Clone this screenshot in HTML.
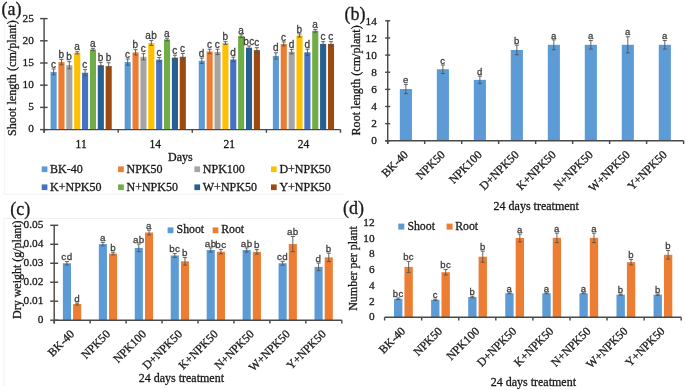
<!DOCTYPE html>
<html><head><meta charset="utf-8"><title>Figure</title>
<style>
html,body{margin:0;padding:0;background:#fff;width:685px;height:390px;overflow:hidden;}
svg{display:block;will-change:transform;}

</style></head>
<body>
<svg width="685" height="390" viewBox="0 0 685 390">
<defs><filter id="soft" filterUnits="userSpaceOnUse" x="0" y="0" width="685" height="390"><feGaussianBlur stdDeviation="0.45"/></filter></defs>
<rect width="685" height="390" fill="#fff"/>
<g filter="url(#soft)">
<rect width="685" height="390" fill="#fff"/>
<line x1="4.3" y1="0" x2="4.3" y2="194.3" stroke="#f3f3f3" stroke-width="1"/>
<line x1="4.3" y1="194.3" x2="345" y2="194.3" stroke="#f3f3f3" stroke-width="1"/>
<text x="1.5" y="14.6" font-family="'Liberation Serif', serif" font-size="18" fill="#1a1a1a" stroke="#1a1a1a" stroke-width="0.3" text-anchor="start" >(a)</text>
<rect x="50.55" y="71.88" width="6.1" height="57.72" fill="#5B9BD5"/>
<line x1="53.6" y1="68.99" x2="53.6" y2="74.77" stroke="#555555" stroke-width="0.9"/>
<line x1="51.6" y1="68.99" x2="55.6" y2="68.99" stroke="#555555" stroke-width="0.9"/>
<line x1="51.6" y1="74.77" x2="55.6" y2="74.77" stroke="#555555" stroke-width="0.9"/>
<text transform="translate(53.6,67.69) scale(1,1)" font-family="'Liberation Sans', sans-serif" font-size="10.0" fill="#404040" stroke="#404040" stroke-width="0.3" letter-spacing="0.45" text-anchor="middle">c</text>
<rect x="58.42" y="62.11" width="6.1" height="67.49" fill="#ED7D31"/>
<line x1="61.47" y1="59.45" x2="61.47" y2="64.78" stroke="#555555" stroke-width="0.9"/>
<line x1="59.47" y1="59.45" x2="63.47" y2="59.45" stroke="#555555" stroke-width="0.9"/>
<line x1="59.47" y1="64.78" x2="63.47" y2="64.78" stroke="#555555" stroke-width="0.9"/>
<text transform="translate(61.47,58.15) scale(1,1)" font-family="'Liberation Sans', sans-serif" font-size="10.0" fill="#404040" stroke="#404040" stroke-width="0.3" letter-spacing="0.45" text-anchor="middle">b</text>
<rect x="66.29" y="65.22" width="6.1" height="64.38" fill="#A5A5A5"/>
<line x1="69.34" y1="61.67" x2="69.34" y2="68.77" stroke="#555555" stroke-width="0.9"/>
<line x1="67.34" y1="61.67" x2="71.34" y2="61.67" stroke="#555555" stroke-width="0.9"/>
<line x1="67.34" y1="68.77" x2="71.34" y2="68.77" stroke="#555555" stroke-width="0.9"/>
<text transform="translate(69.34,60.37) scale(1,1)" font-family="'Liberation Sans', sans-serif" font-size="10.0" fill="#404040" stroke="#404040" stroke-width="0.3" letter-spacing="0.45" text-anchor="middle">b</text>
<rect x="74.16" y="52.79" width="6.1" height="76.81" fill="#FFC000"/>
<line x1="77.21" y1="51.68" x2="77.21" y2="53.9" stroke="#555555" stroke-width="0.9"/>
<line x1="75.21" y1="51.68" x2="79.21" y2="51.68" stroke="#555555" stroke-width="0.9"/>
<line x1="75.21" y1="53.9" x2="79.21" y2="53.9" stroke="#555555" stroke-width="0.9"/>
<text transform="translate(77.21,50.38) scale(1,1)" font-family="'Liberation Sans', sans-serif" font-size="10.0" fill="#404040" stroke="#404040" stroke-width="0.3" letter-spacing="0.45" text-anchor="middle">a</text>
<rect x="82.03" y="72.77" width="6.1" height="56.83" fill="#4472C4"/>
<line x1="85.08" y1="69.66" x2="85.08" y2="75.88" stroke="#555555" stroke-width="0.9"/>
<line x1="83.08" y1="69.66" x2="87.08" y2="69.66" stroke="#555555" stroke-width="0.9"/>
<line x1="83.08" y1="75.88" x2="87.08" y2="75.88" stroke="#555555" stroke-width="0.9"/>
<text transform="translate(85.08,68.36) scale(1,1)" font-family="'Liberation Sans', sans-serif" font-size="10.0" fill="#404040" stroke="#404040" stroke-width="0.3" letter-spacing="0.45" text-anchor="middle">c</text>
<rect x="89.9" y="49.46" width="6.1" height="80.14" fill="#70AD47"/>
<line x1="92.95" y1="48.35" x2="92.95" y2="50.57" stroke="#555555" stroke-width="0.9"/>
<line x1="90.95" y1="48.35" x2="94.95" y2="48.35" stroke="#555555" stroke-width="0.9"/>
<line x1="90.95" y1="50.57" x2="94.95" y2="50.57" stroke="#555555" stroke-width="0.9"/>
<text transform="translate(92.95,47.05) scale(1,1)" font-family="'Liberation Sans', sans-serif" font-size="10.0" fill="#404040" stroke="#404040" stroke-width="0.3" letter-spacing="0.45" text-anchor="middle">a</text>
<rect x="97.77" y="65.22" width="6.1" height="64.38" fill="#255E91"/>
<line x1="100.82" y1="62.33" x2="100.82" y2="68.11" stroke="#555555" stroke-width="0.9"/>
<line x1="98.82" y1="62.33" x2="102.82" y2="62.33" stroke="#555555" stroke-width="0.9"/>
<line x1="98.82" y1="68.11" x2="102.82" y2="68.11" stroke="#555555" stroke-width="0.9"/>
<text transform="translate(100.82,61.03) scale(1,1)" font-family="'Liberation Sans', sans-serif" font-size="10.0" fill="#404040" stroke="#404040" stroke-width="0.3" letter-spacing="0.45" text-anchor="middle">b</text>
<rect x="105.64" y="66.11" width="6.1" height="63.49" fill="#9E480E"/>
<line x1="108.69" y1="62.78" x2="108.69" y2="69.44" stroke="#555555" stroke-width="0.9"/>
<line x1="106.69" y1="62.78" x2="110.69" y2="62.78" stroke="#555555" stroke-width="0.9"/>
<line x1="106.69" y1="69.44" x2="110.69" y2="69.44" stroke="#555555" stroke-width="0.9"/>
<text transform="translate(108.69,61.48) scale(1,1)" font-family="'Liberation Sans', sans-serif" font-size="10.0" fill="#404040" stroke="#404040" stroke-width="0.3" letter-spacing="0.45" text-anchor="middle">b</text>
<text x="81.15" y="148.3" font-family="'Liberation Serif', serif" font-size="11.5" fill="#1a1a1a" stroke="#1a1a1a" stroke-width="0.3" text-anchor="middle" >11</text>
<rect x="124.65" y="62.11" width="6.1" height="67.49" fill="#5B9BD5"/>
<line x1="127.7" y1="59" x2="127.7" y2="65.22" stroke="#555555" stroke-width="0.9"/>
<line x1="125.7" y1="59" x2="129.7" y2="59" stroke="#555555" stroke-width="0.9"/>
<line x1="125.7" y1="65.22" x2="129.7" y2="65.22" stroke="#555555" stroke-width="0.9"/>
<text transform="translate(127.7,57.7) scale(1,1)" font-family="'Liberation Sans', sans-serif" font-size="10.0" fill="#404040" stroke="#404040" stroke-width="0.3" letter-spacing="0.45" text-anchor="middle">c</text>
<rect x="132.52" y="52.34" width="6.1" height="77.26" fill="#ED7D31"/>
<line x1="135.57" y1="49.68" x2="135.57" y2="55.01" stroke="#555555" stroke-width="0.9"/>
<line x1="133.57" y1="49.68" x2="137.57" y2="49.68" stroke="#555555" stroke-width="0.9"/>
<line x1="133.57" y1="55.01" x2="137.57" y2="55.01" stroke="#555555" stroke-width="0.9"/>
<text transform="translate(135.57,48.38) scale(1,1)" font-family="'Liberation Sans', sans-serif" font-size="10.0" fill="#404040" stroke="#404040" stroke-width="0.3" letter-spacing="0.45" text-anchor="middle">b</text>
<rect x="140.39" y="56.78" width="6.1" height="72.82" fill="#A5A5A5"/>
<line x1="143.44" y1="53.68" x2="143.44" y2="59.89" stroke="#555555" stroke-width="0.9"/>
<line x1="141.44" y1="53.68" x2="145.44" y2="53.68" stroke="#555555" stroke-width="0.9"/>
<line x1="141.44" y1="59.89" x2="145.44" y2="59.89" stroke="#555555" stroke-width="0.9"/>
<text transform="translate(143.44,52.38) scale(1,1)" font-family="'Liberation Sans', sans-serif" font-size="10.0" fill="#404040" stroke="#404040" stroke-width="0.3" letter-spacing="0.45" text-anchor="middle">c</text>
<rect x="148.26" y="43.02" width="6.1" height="86.58" fill="#FFC000"/>
<line x1="151.31" y1="40.58" x2="151.31" y2="45.46" stroke="#555555" stroke-width="0.9"/>
<line x1="149.31" y1="40.58" x2="153.31" y2="40.58" stroke="#555555" stroke-width="0.9"/>
<line x1="149.31" y1="45.46" x2="153.31" y2="45.46" stroke="#555555" stroke-width="0.9"/>
<text transform="translate(151.31,39.28) scale(1,1)" font-family="'Liberation Sans', sans-serif" font-size="10.0" fill="#404040" stroke="#404040" stroke-width="0.3" letter-spacing="0.45" text-anchor="middle">ab</text>
<rect x="156.13" y="59.67" width="6.1" height="69.93" fill="#4472C4"/>
<line x1="159.18" y1="57.45" x2="159.18" y2="61.89" stroke="#555555" stroke-width="0.9"/>
<line x1="157.18" y1="57.45" x2="161.18" y2="57.45" stroke="#555555" stroke-width="0.9"/>
<line x1="157.18" y1="61.89" x2="161.18" y2="61.89" stroke="#555555" stroke-width="0.9"/>
<text transform="translate(159.18,56.15) scale(1,1)" font-family="'Liberation Sans', sans-serif" font-size="10.0" fill="#404040" stroke="#404040" stroke-width="0.3" letter-spacing="0.45" text-anchor="middle">c</text>
<rect x="164" y="39.47" width="6.1" height="90.13" fill="#70AD47"/>
<line x1="167.05" y1="38.14" x2="167.05" y2="40.8" stroke="#555555" stroke-width="0.9"/>
<line x1="165.05" y1="38.14" x2="169.05" y2="38.14" stroke="#555555" stroke-width="0.9"/>
<line x1="165.05" y1="40.8" x2="169.05" y2="40.8" stroke="#555555" stroke-width="0.9"/>
<text transform="translate(167.05,36.84) scale(1,1)" font-family="'Liberation Sans', sans-serif" font-size="10.0" fill="#404040" stroke="#404040" stroke-width="0.3" letter-spacing="0.45" text-anchor="middle">a</text>
<rect x="171.87" y="57.67" width="6.1" height="71.93" fill="#255E91"/>
<line x1="174.92" y1="55.23" x2="174.92" y2="60.11" stroke="#555555" stroke-width="0.9"/>
<line x1="172.92" y1="55.23" x2="176.92" y2="55.23" stroke="#555555" stroke-width="0.9"/>
<line x1="172.92" y1="60.11" x2="176.92" y2="60.11" stroke="#555555" stroke-width="0.9"/>
<text transform="translate(174.92,53.93) scale(1,1)" font-family="'Liberation Sans', sans-serif" font-size="10.0" fill="#404040" stroke="#404040" stroke-width="0.3" letter-spacing="0.45" text-anchor="middle">c</text>
<rect x="179.74" y="56.78" width="6.1" height="72.82" fill="#9E480E"/>
<line x1="182.79" y1="53.45" x2="182.79" y2="60.11" stroke="#555555" stroke-width="0.9"/>
<line x1="180.79" y1="53.45" x2="184.79" y2="53.45" stroke="#555555" stroke-width="0.9"/>
<line x1="180.79" y1="60.11" x2="184.79" y2="60.11" stroke="#555555" stroke-width="0.9"/>
<text transform="translate(182.79,52.15) scale(1,1)" font-family="'Liberation Sans', sans-serif" font-size="10.0" fill="#404040" stroke="#404040" stroke-width="0.3" letter-spacing="0.45" text-anchor="middle">c</text>
<text x="155.25" y="148.3" font-family="'Liberation Serif', serif" font-size="11.5" fill="#1a1a1a" stroke="#1a1a1a" stroke-width="0.3" text-anchor="middle" >14</text>
<rect x="198.75" y="60.78" width="6.1" height="68.82" fill="#5B9BD5"/>
<line x1="201.8" y1="58.12" x2="201.8" y2="63.44" stroke="#555555" stroke-width="0.9"/>
<line x1="199.8" y1="58.12" x2="203.8" y2="58.12" stroke="#555555" stroke-width="0.9"/>
<line x1="199.8" y1="63.44" x2="203.8" y2="63.44" stroke="#555555" stroke-width="0.9"/>
<text transform="translate(201.8,56.82) scale(1,1)" font-family="'Liberation Sans', sans-serif" font-size="10.0" fill="#404040" stroke="#404040" stroke-width="0.3" letter-spacing="0.45" text-anchor="middle">d</text>
<rect x="206.62" y="51.46" width="6.1" height="78.14" fill="#ED7D31"/>
<line x1="209.67" y1="49.24" x2="209.67" y2="53.68" stroke="#555555" stroke-width="0.9"/>
<line x1="207.67" y1="49.24" x2="211.67" y2="49.24" stroke="#555555" stroke-width="0.9"/>
<line x1="207.67" y1="53.68" x2="211.67" y2="53.68" stroke="#555555" stroke-width="0.9"/>
<text transform="translate(209.67,47.94) scale(1,1)" font-family="'Liberation Sans', sans-serif" font-size="10.0" fill="#404040" stroke="#404040" stroke-width="0.3" letter-spacing="0.45" text-anchor="middle">c</text>
<rect x="214.49" y="51.9" width="6.1" height="77.7" fill="#A5A5A5"/>
<line x1="217.54" y1="49.24" x2="217.54" y2="54.56" stroke="#555555" stroke-width="0.9"/>
<line x1="215.54" y1="49.24" x2="219.54" y2="49.24" stroke="#555555" stroke-width="0.9"/>
<line x1="215.54" y1="54.56" x2="219.54" y2="54.56" stroke="#555555" stroke-width="0.9"/>
<text transform="translate(217.54,47.94) scale(1,1)" font-family="'Liberation Sans', sans-serif" font-size="10.0" fill="#404040" stroke="#404040" stroke-width="0.3" letter-spacing="0.45" text-anchor="middle">c</text>
<rect x="222.36" y="43.02" width="6.1" height="86.58" fill="#FFC000"/>
<line x1="225.41" y1="41.69" x2="225.41" y2="44.35" stroke="#555555" stroke-width="0.9"/>
<line x1="223.41" y1="41.69" x2="227.41" y2="41.69" stroke="#555555" stroke-width="0.9"/>
<line x1="223.41" y1="44.35" x2="227.41" y2="44.35" stroke="#555555" stroke-width="0.9"/>
<text transform="translate(225.41,40.39) scale(1,1)" font-family="'Liberation Sans', sans-serif" font-size="10.0" fill="#404040" stroke="#404040" stroke-width="0.3" letter-spacing="0.45" text-anchor="middle">b</text>
<rect x="230.23" y="59.45" width="6.1" height="70.15" fill="#4472C4"/>
<line x1="233.28" y1="57.23" x2="233.28" y2="61.67" stroke="#555555" stroke-width="0.9"/>
<line x1="231.28" y1="57.23" x2="235.28" y2="57.23" stroke="#555555" stroke-width="0.9"/>
<line x1="231.28" y1="61.67" x2="235.28" y2="61.67" stroke="#555555" stroke-width="0.9"/>
<text transform="translate(233.28,55.93) scale(1,1)" font-family="'Liberation Sans', sans-serif" font-size="10.0" fill="#404040" stroke="#404040" stroke-width="0.3" letter-spacing="0.45" text-anchor="middle">d</text>
<rect x="238.1" y="36.14" width="6.1" height="93.46" fill="#70AD47"/>
<line x1="241.15" y1="34.81" x2="241.15" y2="37.47" stroke="#555555" stroke-width="0.9"/>
<line x1="239.15" y1="34.81" x2="243.15" y2="34.81" stroke="#555555" stroke-width="0.9"/>
<line x1="239.15" y1="37.47" x2="243.15" y2="37.47" stroke="#555555" stroke-width="0.9"/>
<text transform="translate(241.15,33.51) scale(1,1)" font-family="'Liberation Sans', sans-serif" font-size="10.0" fill="#404040" stroke="#404040" stroke-width="0.3" letter-spacing="0.45" text-anchor="middle">a</text>
<rect x="245.97" y="47.68" width="6.1" height="81.92" fill="#255E91"/>
<line x1="249.02" y1="45.91" x2="249.02" y2="49.46" stroke="#555555" stroke-width="0.9"/>
<line x1="247.02" y1="45.91" x2="251.02" y2="45.91" stroke="#555555" stroke-width="0.9"/>
<line x1="247.02" y1="49.46" x2="251.02" y2="49.46" stroke="#555555" stroke-width="0.9"/>
<text transform="translate(249.02,44.61) scale(1,1)" font-family="'Liberation Sans', sans-serif" font-size="10.0" fill="#404040" stroke="#404040" stroke-width="0.3" letter-spacing="0.45" text-anchor="middle">bc</text>
<rect x="253.84" y="50.12" width="6.1" height="79.48" fill="#9E480E"/>
<line x1="256.89" y1="47.68" x2="256.89" y2="52.57" stroke="#555555" stroke-width="0.9"/>
<line x1="254.89" y1="47.68" x2="258.89" y2="47.68" stroke="#555555" stroke-width="0.9"/>
<line x1="254.89" y1="52.57" x2="258.89" y2="52.57" stroke="#555555" stroke-width="0.9"/>
<text transform="translate(256.89,46.38) scale(1,1)" font-family="'Liberation Sans', sans-serif" font-size="10.0" fill="#404040" stroke="#404040" stroke-width="0.3" letter-spacing="0.45" text-anchor="middle">c</text>
<text x="229.35" y="148.3" font-family="'Liberation Serif', serif" font-size="11.5" fill="#1a1a1a" stroke="#1a1a1a" stroke-width="0.3" text-anchor="middle" >21</text>
<rect x="272.85" y="55.9" width="6.1" height="73.7" fill="#5B9BD5"/>
<line x1="275.9" y1="52.79" x2="275.9" y2="59" stroke="#555555" stroke-width="0.9"/>
<line x1="273.9" y1="52.79" x2="277.9" y2="52.79" stroke="#555555" stroke-width="0.9"/>
<line x1="273.9" y1="59" x2="277.9" y2="59" stroke="#555555" stroke-width="0.9"/>
<text transform="translate(275.9,51.49) scale(1,1)" font-family="'Liberation Sans', sans-serif" font-size="10.0" fill="#404040" stroke="#404040" stroke-width="0.3" letter-spacing="0.45" text-anchor="middle">d</text>
<rect x="280.72" y="43.91" width="6.1" height="85.69" fill="#ED7D31"/>
<line x1="283.77" y1="41.91" x2="283.77" y2="45.91" stroke="#555555" stroke-width="0.9"/>
<line x1="281.77" y1="41.91" x2="285.77" y2="41.91" stroke="#555555" stroke-width="0.9"/>
<line x1="281.77" y1="45.91" x2="285.77" y2="45.91" stroke="#555555" stroke-width="0.9"/>
<text transform="translate(283.77,40.61) scale(1,1)" font-family="'Liberation Sans', sans-serif" font-size="10.0" fill="#404040" stroke="#404040" stroke-width="0.3" letter-spacing="0.45" text-anchor="middle">c</text>
<rect x="288.59" y="51.68" width="6.1" height="77.92" fill="#A5A5A5"/>
<line x1="291.64" y1="49.46" x2="291.64" y2="53.9" stroke="#555555" stroke-width="0.9"/>
<line x1="289.64" y1="49.46" x2="293.64" y2="49.46" stroke="#555555" stroke-width="0.9"/>
<line x1="289.64" y1="53.9" x2="293.64" y2="53.9" stroke="#555555" stroke-width="0.9"/>
<text transform="translate(291.64,48.16) scale(1,1)" font-family="'Liberation Sans', sans-serif" font-size="10.0" fill="#404040" stroke="#404040" stroke-width="0.3" letter-spacing="0.45" text-anchor="middle">d</text>
<rect x="296.46" y="35.47" width="6.1" height="94.13" fill="#FFC000"/>
<line x1="299.51" y1="33.92" x2="299.51" y2="37.03" stroke="#555555" stroke-width="0.9"/>
<line x1="297.51" y1="33.92" x2="301.51" y2="33.92" stroke="#555555" stroke-width="0.9"/>
<line x1="297.51" y1="37.03" x2="301.51" y2="37.03" stroke="#555555" stroke-width="0.9"/>
<text transform="translate(299.51,32.62) scale(1,1)" font-family="'Liberation Sans', sans-serif" font-size="10.0" fill="#404040" stroke="#404040" stroke-width="0.3" letter-spacing="0.45" text-anchor="middle">b</text>
<rect x="304.33" y="52.34" width="6.1" height="77.26" fill="#4472C4"/>
<line x1="307.38" y1="49.24" x2="307.38" y2="55.45" stroke="#555555" stroke-width="0.9"/>
<line x1="305.38" y1="49.24" x2="309.38" y2="49.24" stroke="#555555" stroke-width="0.9"/>
<line x1="305.38" y1="55.45" x2="309.38" y2="55.45" stroke="#555555" stroke-width="0.9"/>
<text transform="translate(307.38,47.94) scale(1,1)" font-family="'Liberation Sans', sans-serif" font-size="10.0" fill="#404040" stroke="#404040" stroke-width="0.3" letter-spacing="0.45" text-anchor="middle">d</text>
<rect x="312.2" y="30.81" width="6.1" height="98.79" fill="#70AD47"/>
<line x1="315.25" y1="29.48" x2="315.25" y2="32.14" stroke="#555555" stroke-width="0.9"/>
<line x1="313.25" y1="29.48" x2="317.25" y2="29.48" stroke="#555555" stroke-width="0.9"/>
<line x1="313.25" y1="32.14" x2="317.25" y2="32.14" stroke="#555555" stroke-width="0.9"/>
<text transform="translate(315.25,28.18) scale(1,1)" font-family="'Liberation Sans', sans-serif" font-size="10.0" fill="#404040" stroke="#404040" stroke-width="0.3" letter-spacing="0.45" text-anchor="middle">a</text>
<rect x="320.07" y="43.91" width="6.1" height="85.69" fill="#255E91"/>
<line x1="323.12" y1="41.69" x2="323.12" y2="46.13" stroke="#555555" stroke-width="0.9"/>
<line x1="321.12" y1="41.69" x2="325.12" y2="41.69" stroke="#555555" stroke-width="0.9"/>
<line x1="321.12" y1="46.13" x2="325.12" y2="46.13" stroke="#555555" stroke-width="0.9"/>
<text transform="translate(323.12,40.39) scale(1,1)" font-family="'Liberation Sans', sans-serif" font-size="10.0" fill="#404040" stroke="#404040" stroke-width="0.3" letter-spacing="0.45" text-anchor="middle">c</text>
<rect x="327.94" y="43.91" width="6.1" height="85.69" fill="#9E480E"/>
<line x1="330.99" y1="41.69" x2="330.99" y2="46.13" stroke="#555555" stroke-width="0.9"/>
<line x1="328.99" y1="41.69" x2="332.99" y2="41.69" stroke="#555555" stroke-width="0.9"/>
<line x1="328.99" y1="46.13" x2="332.99" y2="46.13" stroke="#555555" stroke-width="0.9"/>
<text transform="translate(330.99,40.39) scale(1,1)" font-family="'Liberation Sans', sans-serif" font-size="10.0" fill="#404040" stroke="#404040" stroke-width="0.3" letter-spacing="0.45" text-anchor="middle">c</text>
<text x="303.45" y="148.3" font-family="'Liberation Serif', serif" font-size="11.5" fill="#1a1a1a" stroke="#1a1a1a" stroke-width="0.3" text-anchor="middle" >24</text>
<line x1="44.1" y1="18.6" x2="44.1" y2="132.8" stroke="#4a4a4a" stroke-width="1.45"/>
<line x1="40.1" y1="129.6" x2="47.6" y2="129.6" stroke="#4a4a4a" stroke-width="1.45"/>
<text x="33.9" y="132.22" font-family="'Liberation Serif', serif" font-size="11.3" fill="#1a1a1a" stroke="#1a1a1a" stroke-width="0.3" text-anchor="end" >0</text>
<line x1="40.1" y1="107.4" x2="47.6" y2="107.4" stroke="#4a4a4a" stroke-width="1.45"/>
<text x="33.9" y="110.12" font-family="'Liberation Serif', serif" font-size="11.3" fill="#1a1a1a" stroke="#1a1a1a" stroke-width="0.3" text-anchor="end" >5</text>
<line x1="40.1" y1="85.2" x2="47.6" y2="85.2" stroke="#4a4a4a" stroke-width="1.45"/>
<text x="33.9" y="88.02" font-family="'Liberation Serif', serif" font-size="11.3" fill="#1a1a1a" stroke="#1a1a1a" stroke-width="0.3" text-anchor="end" >10</text>
<line x1="40.1" y1="63" x2="47.6" y2="63" stroke="#4a4a4a" stroke-width="1.45"/>
<text x="33.9" y="65.92" font-family="'Liberation Serif', serif" font-size="11.3" fill="#1a1a1a" stroke="#1a1a1a" stroke-width="0.3" text-anchor="end" >15</text>
<line x1="40.1" y1="40.8" x2="47.6" y2="40.8" stroke="#4a4a4a" stroke-width="1.45"/>
<text x="33.9" y="43.82" font-family="'Liberation Serif', serif" font-size="11.3" fill="#1a1a1a" stroke="#1a1a1a" stroke-width="0.3" text-anchor="end" >20</text>
<line x1="40.1" y1="18.6" x2="47.6" y2="18.6" stroke="#4a4a4a" stroke-width="1.45"/>
<text x="33.9" y="21.72" font-family="'Liberation Serif', serif" font-size="11.3" fill="#1a1a1a" stroke="#1a1a1a" stroke-width="0.3" text-anchor="end" >25</text>
<line x1="44.1" y1="129.6" x2="340.5" y2="129.6" stroke="#4a4a4a" stroke-width="1.45"/>
<line x1="44.1" y1="129.6" x2="44.1" y2="132.8" stroke="#4a4a4a" stroke-width="1.45"/>
<line x1="118.2" y1="129.6" x2="118.2" y2="132.8" stroke="#4a4a4a" stroke-width="1.45"/>
<line x1="192.3" y1="129.6" x2="192.3" y2="132.8" stroke="#4a4a4a" stroke-width="1.45"/>
<line x1="266.4" y1="129.6" x2="266.4" y2="132.8" stroke="#4a4a4a" stroke-width="1.45"/>
<line x1="340.5" y1="129.6" x2="340.5" y2="132.8" stroke="#4a4a4a" stroke-width="1.45"/>
<text x="180.4" y="160.5" font-family="'Liberation Serif', serif" font-size="12" fill="#1a1a1a" stroke="#1a1a1a" stroke-width="0.3" text-anchor="middle" >Days</text>
<rect x="41.7" y="166.4" width="5.7" height="5.7" fill="#5B9BD5"/>
<text x="50.1" y="173.2" font-family="'Liberation Serif', serif" font-size="12.0" fill="#1a1a1a" stroke="#1a1a1a" stroke-width="0.3" text-anchor="start" >BK-40</text>
<rect x="118.1" y="166.4" width="5.7" height="5.7" fill="#ED7D31"/>
<text x="126.5" y="173.2" font-family="'Liberation Serif', serif" font-size="12.0" fill="#1a1a1a" stroke="#1a1a1a" stroke-width="0.3" text-anchor="start" >NPK50</text>
<rect x="194.4" y="166.4" width="5.7" height="5.7" fill="#A5A5A5"/>
<text x="202.8" y="173.2" font-family="'Liberation Serif', serif" font-size="12.0" fill="#1a1a1a" stroke="#1a1a1a" stroke-width="0.3" text-anchor="start" >NPK100</text>
<rect x="271" y="166.4" width="5.7" height="5.7" fill="#FFC000"/>
<text x="279.4" y="173.2" font-family="'Liberation Serif', serif" font-size="12.0" fill="#1a1a1a" stroke="#1a1a1a" stroke-width="0.3" text-anchor="start" >D+NPK50</text>
<rect x="41.7" y="184.4" width="5.7" height="5.7" fill="#4472C4"/>
<text x="50.1" y="191.2" font-family="'Liberation Serif', serif" font-size="12.0" fill="#1a1a1a" stroke="#1a1a1a" stroke-width="0.3" text-anchor="start" >K+NPK50</text>
<rect x="118.1" y="184.4" width="5.7" height="5.7" fill="#70AD47"/>
<text x="126.5" y="191.2" font-family="'Liberation Serif', serif" font-size="12.0" fill="#1a1a1a" stroke="#1a1a1a" stroke-width="0.3" text-anchor="start" >N+NPK50</text>
<rect x="194.4" y="184.4" width="5.7" height="5.7" fill="#255E91"/>
<text x="202.8" y="191.2" font-family="'Liberation Serif', serif" font-size="12.0" fill="#1a1a1a" stroke="#1a1a1a" stroke-width="0.3" text-anchor="start" >W+NPK50</text>
<rect x="271" y="184.4" width="5.7" height="5.7" fill="#9E480E"/>
<text x="279.4" y="191.2" font-family="'Liberation Serif', serif" font-size="12.0" fill="#1a1a1a" stroke="#1a1a1a" stroke-width="0.3" text-anchor="start" >Y+NPK50</text>
<text transform="translate(16.2,78.2) rotate(-90)" font-family="'Liberation Serif', serif" font-size="12.2" fill="#1a1a1a" stroke="#1a1a1a" stroke-width="0.3" text-anchor="middle">Shoot length (cm/plant)</text>
<text x="344.5" y="20.2" font-family="'Liberation Serif', serif" font-size="18" fill="#1a1a1a" stroke="#1a1a1a" stroke-width="0.3" text-anchor="start" >(b)</text>
<rect x="399.84" y="89.03" width="12.1" height="51.77" fill="#5B9BD5"/>
<line x1="405.89" y1="84.4" x2="405.89" y2="93.66" stroke="#555555" stroke-width="0.9"/>
<line x1="403.89" y1="84.4" x2="407.89" y2="84.4" stroke="#555555" stroke-width="0.9"/>
<line x1="403.89" y1="93.66" x2="407.89" y2="93.66" stroke="#555555" stroke-width="0.9"/>
<text transform="translate(405.89,83.1) scale(1,1)" font-family="'Liberation Sans', sans-serif" font-size="9.5" fill="#404040" stroke="#404040" stroke-width="0.3" letter-spacing="0.45" text-anchor="middle">e</text>
<text transform="translate(406.19,152.8) rotate(-45)" font-family="'Liberation Serif', serif" font-size="11.7" fill="#1a1a1a" stroke="#1a1a1a" stroke-width="0.3" text-anchor="end" dominant-baseline="central">BK-40</text>
<rect x="436.83" y="69.23" width="12.1" height="71.57" fill="#5B9BD5"/>
<line x1="442.88" y1="64.95" x2="442.88" y2="73.52" stroke="#555555" stroke-width="0.9"/>
<line x1="440.88" y1="64.95" x2="444.88" y2="64.95" stroke="#555555" stroke-width="0.9"/>
<line x1="440.88" y1="73.52" x2="444.88" y2="73.52" stroke="#555555" stroke-width="0.9"/>
<text transform="translate(442.88,63.65) scale(1,1)" font-family="'Liberation Sans', sans-serif" font-size="9.5" fill="#404040" stroke="#404040" stroke-width="0.3" letter-spacing="0.45" text-anchor="middle">c</text>
<text transform="translate(443.18,152.8) rotate(-45)" font-family="'Liberation Serif', serif" font-size="11.7" fill="#1a1a1a" stroke="#1a1a1a" stroke-width="0.3" text-anchor="end" dominant-baseline="central">NPK50</text>
<rect x="473.82" y="79.86" width="12.1" height="60.94" fill="#5B9BD5"/>
<line x1="479.87" y1="76.17" x2="479.87" y2="83.55" stroke="#555555" stroke-width="0.9"/>
<line x1="477.87" y1="76.17" x2="481.87" y2="76.17" stroke="#555555" stroke-width="0.9"/>
<line x1="477.87" y1="83.55" x2="481.87" y2="83.55" stroke="#555555" stroke-width="0.9"/>
<text transform="translate(479.87,74.87) scale(1,1)" font-family="'Liberation Sans', sans-serif" font-size="9.5" fill="#404040" stroke="#404040" stroke-width="0.3" letter-spacing="0.45" text-anchor="middle">d</text>
<text transform="translate(480.17,152.8) rotate(-45)" font-family="'Liberation Serif', serif" font-size="11.7" fill="#1a1a1a" stroke="#1a1a1a" stroke-width="0.3" text-anchor="end" dominant-baseline="central">NPK100</text>
<rect x="510.81" y="49.95" width="12.1" height="90.85" fill="#5B9BD5"/>
<line x1="516.86" y1="45.15" x2="516.86" y2="54.75" stroke="#555555" stroke-width="0.9"/>
<line x1="514.86" y1="45.15" x2="518.86" y2="45.15" stroke="#555555" stroke-width="0.9"/>
<line x1="514.86" y1="54.75" x2="518.86" y2="54.75" stroke="#555555" stroke-width="0.9"/>
<text transform="translate(516.86,43.85) scale(1,1)" font-family="'Liberation Sans', sans-serif" font-size="9.5" fill="#404040" stroke="#404040" stroke-width="0.3" letter-spacing="0.45" text-anchor="middle">b</text>
<text transform="translate(517.16,152.8) rotate(-45)" font-family="'Liberation Serif', serif" font-size="11.7" fill="#1a1a1a" stroke="#1a1a1a" stroke-width="0.3" text-anchor="end" dominant-baseline="central">D+NPK50</text>
<rect x="547.79" y="44.8" width="12.1" height="96" fill="#5B9BD5"/>
<line x1="553.84" y1="39.83" x2="553.84" y2="49.78" stroke="#555555" stroke-width="0.9"/>
<line x1="551.84" y1="39.83" x2="555.84" y2="39.83" stroke="#555555" stroke-width="0.9"/>
<line x1="551.84" y1="49.78" x2="555.84" y2="49.78" stroke="#555555" stroke-width="0.9"/>
<text transform="translate(553.84,38.53) scale(1,1)" font-family="'Liberation Sans', sans-serif" font-size="9.5" fill="#404040" stroke="#404040" stroke-width="0.3" letter-spacing="0.45" text-anchor="middle">a</text>
<text transform="translate(554.14,152.8) rotate(-45)" font-family="'Liberation Serif', serif" font-size="11.7" fill="#1a1a1a" stroke="#1a1a1a" stroke-width="0.3" text-anchor="end" dominant-baseline="central">K+NPK50</text>
<rect x="584.78" y="44.8" width="12.1" height="96" fill="#5B9BD5"/>
<line x1="590.83" y1="40.52" x2="590.83" y2="49.09" stroke="#555555" stroke-width="0.9"/>
<line x1="588.83" y1="40.52" x2="592.83" y2="40.52" stroke="#555555" stroke-width="0.9"/>
<line x1="588.83" y1="49.09" x2="592.83" y2="49.09" stroke="#555555" stroke-width="0.9"/>
<text transform="translate(590.83,39.22) scale(1,1)" font-family="'Liberation Sans', sans-serif" font-size="9.5" fill="#404040" stroke="#404040" stroke-width="0.3" letter-spacing="0.45" text-anchor="middle">a</text>
<text transform="translate(591.13,152.8) rotate(-45)" font-family="'Liberation Serif', serif" font-size="11.7" fill="#1a1a1a" stroke="#1a1a1a" stroke-width="0.3" text-anchor="end" dominant-baseline="central">N+NPK50</text>
<rect x="621.77" y="44.8" width="12.1" height="96" fill="#5B9BD5"/>
<line x1="627.82" y1="36.75" x2="627.82" y2="52.86" stroke="#555555" stroke-width="0.9"/>
<line x1="625.82" y1="36.75" x2="629.82" y2="36.75" stroke="#555555" stroke-width="0.9"/>
<line x1="625.82" y1="52.86" x2="629.82" y2="52.86" stroke="#555555" stroke-width="0.9"/>
<text transform="translate(627.82,35.45) scale(1,1)" font-family="'Liberation Sans', sans-serif" font-size="9.5" fill="#404040" stroke="#404040" stroke-width="0.3" letter-spacing="0.45" text-anchor="middle">a</text>
<text transform="translate(628.12,152.8) rotate(-45)" font-family="'Liberation Serif', serif" font-size="11.7" fill="#1a1a1a" stroke="#1a1a1a" stroke-width="0.3" text-anchor="end" dominant-baseline="central">W+NPK50</text>
<rect x="658.76" y="44.8" width="12.1" height="96" fill="#5B9BD5"/>
<line x1="664.81" y1="40.52" x2="664.81" y2="49.09" stroke="#555555" stroke-width="0.9"/>
<line x1="662.81" y1="40.52" x2="666.81" y2="40.52" stroke="#555555" stroke-width="0.9"/>
<line x1="662.81" y1="49.09" x2="666.81" y2="49.09" stroke="#555555" stroke-width="0.9"/>
<text transform="translate(664.81,39.22) scale(1,1)" font-family="'Liberation Sans', sans-serif" font-size="9.5" fill="#404040" stroke="#404040" stroke-width="0.3" letter-spacing="0.45" text-anchor="middle">a</text>
<text transform="translate(665.11,152.8) rotate(-45)" font-family="'Liberation Serif', serif" font-size="11.7" fill="#1a1a1a" stroke="#1a1a1a" stroke-width="0.3" text-anchor="end" dominant-baseline="central">Y+NPK50</text>
<line x1="387.7" y1="20.81" x2="387.7" y2="144" stroke="#4a4a4a" stroke-width="1.45"/>
<line x1="385.2" y1="140.8" x2="390.2" y2="140.8" stroke="#4a4a4a" stroke-width="1.45"/>
<text x="376.8" y="143.82" font-family="'Liberation Serif', serif" font-size="11.3" fill="#1a1a1a" stroke="#1a1a1a" stroke-width="0.3" text-anchor="end" >0</text>
<line x1="385.2" y1="123.66" x2="390.2" y2="123.66" stroke="#4a4a4a" stroke-width="1.45"/>
<text x="376.8" y="126.84" font-family="'Liberation Serif', serif" font-size="11.3" fill="#1a1a1a" stroke="#1a1a1a" stroke-width="0.3" text-anchor="end" >2</text>
<line x1="385.2" y1="106.52" x2="390.2" y2="106.52" stroke="#4a4a4a" stroke-width="1.45"/>
<text x="376.8" y="109.86" font-family="'Liberation Serif', serif" font-size="11.3" fill="#1a1a1a" stroke="#1a1a1a" stroke-width="0.3" text-anchor="end" >4</text>
<line x1="385.2" y1="89.37" x2="390.2" y2="89.37" stroke="#4a4a4a" stroke-width="1.45"/>
<text x="376.8" y="92.88" font-family="'Liberation Serif', serif" font-size="11.3" fill="#1a1a1a" stroke="#1a1a1a" stroke-width="0.3" text-anchor="end" >6</text>
<line x1="385.2" y1="72.23" x2="390.2" y2="72.23" stroke="#4a4a4a" stroke-width="1.45"/>
<text x="376.8" y="75.9" font-family="'Liberation Serif', serif" font-size="11.3" fill="#1a1a1a" stroke="#1a1a1a" stroke-width="0.3" text-anchor="end" >8</text>
<line x1="385.2" y1="55.09" x2="390.2" y2="55.09" stroke="#4a4a4a" stroke-width="1.45"/>
<text x="376.8" y="58.92" font-family="'Liberation Serif', serif" font-size="11.3" fill="#1a1a1a" stroke="#1a1a1a" stroke-width="0.3" text-anchor="end" >10</text>
<line x1="385.2" y1="37.95" x2="390.2" y2="37.95" stroke="#4a4a4a" stroke-width="1.45"/>
<text x="376.8" y="41.94" font-family="'Liberation Serif', serif" font-size="11.3" fill="#1a1a1a" stroke="#1a1a1a" stroke-width="0.3" text-anchor="end" >12</text>
<line x1="385.2" y1="20.81" x2="390.2" y2="20.81" stroke="#4a4a4a" stroke-width="1.45"/>
<text x="376.8" y="24.96" font-family="'Liberation Serif', serif" font-size="11.3" fill="#1a1a1a" stroke="#1a1a1a" stroke-width="0.3" text-anchor="end" >14</text>
<line x1="385.2" y1="140.8" x2="683.6" y2="140.8" stroke="#4a4a4a" stroke-width="1.45"/>
<line x1="387.7" y1="140.8" x2="387.7" y2="144" stroke="#4a4a4a" stroke-width="1.45"/>
<line x1="424.69" y1="140.8" x2="424.69" y2="144" stroke="#4a4a4a" stroke-width="1.45"/>
<line x1="461.68" y1="140.8" x2="461.68" y2="144" stroke="#4a4a4a" stroke-width="1.45"/>
<line x1="498.66" y1="140.8" x2="498.66" y2="144" stroke="#4a4a4a" stroke-width="1.45"/>
<line x1="535.65" y1="140.8" x2="535.65" y2="144" stroke="#4a4a4a" stroke-width="1.45"/>
<line x1="572.64" y1="140.8" x2="572.64" y2="144" stroke="#4a4a4a" stroke-width="1.45"/>
<line x1="609.62" y1="140.8" x2="609.62" y2="144" stroke="#4a4a4a" stroke-width="1.45"/>
<line x1="646.61" y1="140.8" x2="646.61" y2="144" stroke="#4a4a4a" stroke-width="1.45"/>
<line x1="683.6" y1="140.8" x2="683.6" y2="144" stroke="#4a4a4a" stroke-width="1.45"/>
<text x="493.6" y="209.8" font-family="'Liberation Serif', serif" font-size="12.0" fill="#1a1a1a" stroke="#1a1a1a" stroke-width="0.3" text-anchor="start" >24 days treatment</text>
<text transform="translate(359.6,80.4) rotate(-90)" font-family="'Liberation Serif', serif" font-size="12.1" fill="#1a1a1a" stroke="#1a1a1a" stroke-width="0.3" text-anchor="middle">Root length (cm/plant)</text>
<line x1="4" y1="218.5" x2="345" y2="218.5" stroke="#f1f1f1" stroke-width="1"/>
<line x1="4" y1="218.5" x2="4" y2="386" stroke="#f1f1f1" stroke-width="1"/>
<text x="10.3" y="215.2" font-family="'Liberation Serif', serif" font-size="18" fill="#1a1a1a" stroke="#1a1a1a" stroke-width="0.3" text-anchor="start" >(c)</text>
<rect x="62.88" y="263.26" width="8.1" height="56.94" fill="#5B9BD5"/>
<line x1="66.93" y1="261.55" x2="66.93" y2="264.97" stroke="#555555" stroke-width="0.9"/>
<line x1="64.93" y1="261.55" x2="68.93" y2="261.55" stroke="#555555" stroke-width="0.9"/>
<line x1="64.93" y1="264.97" x2="68.93" y2="264.97" stroke="#555555" stroke-width="0.9"/>
<text transform="translate(66.93,260.25) scale(1,1)" font-family="'Liberation Sans', sans-serif" font-size="9.8" fill="#404040" stroke="#404040" stroke-width="0.3" letter-spacing="0.45" text-anchor="middle">cd</text>
<rect x="73.08" y="304.07" width="8.1" height="16.13" fill="#ED7D31"/>
<line x1="77.13" y1="303.12" x2="77.13" y2="305.02" stroke="#555555" stroke-width="0.9"/>
<line x1="75.13" y1="303.12" x2="79.13" y2="303.12" stroke="#555555" stroke-width="0.9"/>
<line x1="75.13" y1="305.02" x2="79.13" y2="305.02" stroke="#555555" stroke-width="0.9"/>
<text transform="translate(77.13,301.82) scale(1,1)" font-family="'Liberation Sans', sans-serif" font-size="9.8" fill="#404040" stroke="#404040" stroke-width="0.3" letter-spacing="0.45" text-anchor="middle">d</text>
<text transform="translate(72.48,332.2) rotate(-45)" font-family="'Liberation Serif', serif" font-size="11.7" fill="#1a1a1a" stroke="#1a1a1a" stroke-width="0.3" text-anchor="end" dominant-baseline="central">BK-40</text>
<rect x="98.83" y="244.09" width="8.1" height="76.11" fill="#5B9BD5"/>
<line x1="102.88" y1="242.38" x2="102.88" y2="245.8" stroke="#555555" stroke-width="0.9"/>
<line x1="100.88" y1="242.38" x2="104.88" y2="242.38" stroke="#555555" stroke-width="0.9"/>
<line x1="100.88" y1="245.8" x2="104.88" y2="245.8" stroke="#555555" stroke-width="0.9"/>
<text transform="translate(102.88,241.08) scale(1,1)" font-family="'Liberation Sans', sans-serif" font-size="9.8" fill="#404040" stroke="#404040" stroke-width="0.3" letter-spacing="0.45" text-anchor="middle">a</text>
<rect x="109.03" y="253.58" width="8.1" height="66.62" fill="#ED7D31"/>
<line x1="113.08" y1="252.25" x2="113.08" y2="254.91" stroke="#555555" stroke-width="0.9"/>
<line x1="111.08" y1="252.25" x2="115.08" y2="252.25" stroke="#555555" stroke-width="0.9"/>
<line x1="111.08" y1="254.91" x2="115.08" y2="254.91" stroke="#555555" stroke-width="0.9"/>
<text transform="translate(113.08,250.95) scale(1,1)" font-family="'Liberation Sans', sans-serif" font-size="9.8" fill="#404040" stroke="#404040" stroke-width="0.3" letter-spacing="0.45" text-anchor="middle">b</text>
<text transform="translate(108.42,332.2) rotate(-45)" font-family="'Liberation Serif', serif" font-size="11.7" fill="#1a1a1a" stroke="#1a1a1a" stroke-width="0.3" text-anchor="end" dominant-baseline="central">NPK50</text>
<rect x="134.77" y="247.89" width="8.1" height="72.31" fill="#5B9BD5"/>
<line x1="138.82" y1="244.09" x2="138.82" y2="251.68" stroke="#555555" stroke-width="0.9"/>
<line x1="136.82" y1="244.09" x2="140.82" y2="244.09" stroke="#555555" stroke-width="0.9"/>
<line x1="136.82" y1="251.68" x2="140.82" y2="251.68" stroke="#555555" stroke-width="0.9"/>
<text transform="translate(138.82,242.79) scale(1,1)" font-family="'Liberation Sans', sans-serif" font-size="9.8" fill="#404040" stroke="#404040" stroke-width="0.3" letter-spacing="0.45" text-anchor="middle">ab</text>
<rect x="144.97" y="232.51" width="8.1" height="87.69" fill="#ED7D31"/>
<line x1="149.03" y1="230.04" x2="149.03" y2="234.98" stroke="#555555" stroke-width="0.9"/>
<line x1="147.03" y1="230.04" x2="151.03" y2="230.04" stroke="#555555" stroke-width="0.9"/>
<line x1="147.03" y1="234.98" x2="151.03" y2="234.98" stroke="#555555" stroke-width="0.9"/>
<text transform="translate(149.03,228.74) scale(1,1)" font-family="'Liberation Sans', sans-serif" font-size="9.8" fill="#404040" stroke="#404040" stroke-width="0.3" letter-spacing="0.45" text-anchor="middle">a</text>
<text transform="translate(144.38,332.2) rotate(-45)" font-family="'Liberation Serif', serif" font-size="11.7" fill="#1a1a1a" stroke="#1a1a1a" stroke-width="0.3" text-anchor="end" dominant-baseline="central">NPK100</text>
<rect x="170.73" y="255.48" width="8.1" height="64.72" fill="#5B9BD5"/>
<line x1="174.78" y1="253.58" x2="174.78" y2="257.38" stroke="#555555" stroke-width="0.9"/>
<line x1="172.78" y1="253.58" x2="176.78" y2="253.58" stroke="#555555" stroke-width="0.9"/>
<line x1="172.78" y1="257.38" x2="176.78" y2="257.38" stroke="#555555" stroke-width="0.9"/>
<text transform="translate(174.78,252.28) scale(1,1)" font-family="'Liberation Sans', sans-serif" font-size="9.8" fill="#404040" stroke="#404040" stroke-width="0.3" letter-spacing="0.45" text-anchor="middle">bc</text>
<rect x="180.93" y="261.36" width="8.1" height="58.84" fill="#ED7D31"/>
<line x1="184.98" y1="257.57" x2="184.98" y2="265.16" stroke="#555555" stroke-width="0.9"/>
<line x1="182.98" y1="257.57" x2="186.98" y2="257.57" stroke="#555555" stroke-width="0.9"/>
<line x1="182.98" y1="265.16" x2="186.98" y2="265.16" stroke="#555555" stroke-width="0.9"/>
<text transform="translate(184.98,256.27) scale(1,1)" font-family="'Liberation Sans', sans-serif" font-size="9.8" fill="#404040" stroke="#404040" stroke-width="0.3" letter-spacing="0.45" text-anchor="middle">b</text>
<text transform="translate(180.33,332.2) rotate(-45)" font-family="'Liberation Serif', serif" font-size="11.7" fill="#1a1a1a" stroke="#1a1a1a" stroke-width="0.3" text-anchor="end" dominant-baseline="central">D+NPK50</text>
<rect x="206.68" y="249.97" width="8.1" height="70.23" fill="#5B9BD5"/>
<line x1="210.73" y1="247.89" x2="210.73" y2="252.06" stroke="#555555" stroke-width="0.9"/>
<line x1="208.73" y1="247.89" x2="212.73" y2="247.89" stroke="#555555" stroke-width="0.9"/>
<line x1="208.73" y1="252.06" x2="212.73" y2="252.06" stroke="#555555" stroke-width="0.9"/>
<text transform="translate(210.73,246.59) scale(1,1)" font-family="'Liberation Sans', sans-serif" font-size="9.8" fill="#404040" stroke="#404040" stroke-width="0.3" letter-spacing="0.45" text-anchor="middle">ab</text>
<rect x="216.88" y="251.68" width="8.1" height="68.52" fill="#ED7D31"/>
<line x1="220.93" y1="249.4" x2="220.93" y2="253.96" stroke="#555555" stroke-width="0.9"/>
<line x1="218.93" y1="249.4" x2="222.93" y2="249.4" stroke="#555555" stroke-width="0.9"/>
<line x1="218.93" y1="253.96" x2="222.93" y2="253.96" stroke="#555555" stroke-width="0.9"/>
<text transform="translate(220.93,248.1) scale(1,1)" font-family="'Liberation Sans', sans-serif" font-size="9.8" fill="#404040" stroke="#404040" stroke-width="0.3" letter-spacing="0.45" text-anchor="middle">bc</text>
<text transform="translate(216.28,332.2) rotate(-45)" font-family="'Liberation Serif', serif" font-size="11.7" fill="#1a1a1a" stroke="#1a1a1a" stroke-width="0.3" text-anchor="end" dominant-baseline="central">K+NPK50</text>
<rect x="242.62" y="249.97" width="8.1" height="70.23" fill="#5B9BD5"/>
<line x1="246.68" y1="247.89" x2="246.68" y2="252.06" stroke="#555555" stroke-width="0.9"/>
<line x1="244.68" y1="247.89" x2="248.68" y2="247.89" stroke="#555555" stroke-width="0.9"/>
<line x1="244.68" y1="252.06" x2="248.68" y2="252.06" stroke="#555555" stroke-width="0.9"/>
<text transform="translate(246.68,246.59) scale(1,1)" font-family="'Liberation Sans', sans-serif" font-size="9.8" fill="#404040" stroke="#404040" stroke-width="0.3" letter-spacing="0.45" text-anchor="middle">ab</text>
<rect x="252.83" y="251.87" width="8.1" height="68.33" fill="#ED7D31"/>
<line x1="256.88" y1="249.59" x2="256.88" y2="254.15" stroke="#555555" stroke-width="0.9"/>
<line x1="254.88" y1="249.59" x2="258.88" y2="249.59" stroke="#555555" stroke-width="0.9"/>
<line x1="254.88" y1="254.15" x2="258.88" y2="254.15" stroke="#555555" stroke-width="0.9"/>
<text transform="translate(256.88,248.29) scale(1,1)" font-family="'Liberation Sans', sans-serif" font-size="9.8" fill="#404040" stroke="#404040" stroke-width="0.3" letter-spacing="0.45" text-anchor="middle">b</text>
<text transform="translate(252.23,332.2) rotate(-45)" font-family="'Liberation Serif', serif" font-size="11.7" fill="#1a1a1a" stroke="#1a1a1a" stroke-width="0.3" text-anchor="end" dominant-baseline="central">N+NPK50</text>
<rect x="278.57" y="263.26" width="8.1" height="56.94" fill="#5B9BD5"/>
<line x1="282.62" y1="261.36" x2="282.62" y2="265.16" stroke="#555555" stroke-width="0.9"/>
<line x1="280.62" y1="261.36" x2="284.62" y2="261.36" stroke="#555555" stroke-width="0.9"/>
<line x1="280.62" y1="265.16" x2="284.62" y2="265.16" stroke="#555555" stroke-width="0.9"/>
<text transform="translate(282.62,260.06) scale(1,1)" font-family="'Liberation Sans', sans-serif" font-size="9.8" fill="#404040" stroke="#404040" stroke-width="0.3" letter-spacing="0.45" text-anchor="middle">cd</text>
<rect x="288.77" y="244.09" width="8.1" height="76.11" fill="#ED7D31"/>
<line x1="292.82" y1="236.5" x2="292.82" y2="251.68" stroke="#555555" stroke-width="0.9"/>
<line x1="290.82" y1="236.5" x2="294.82" y2="236.5" stroke="#555555" stroke-width="0.9"/>
<line x1="290.82" y1="251.68" x2="294.82" y2="251.68" stroke="#555555" stroke-width="0.9"/>
<text transform="translate(292.82,235.2) scale(1,1)" font-family="'Liberation Sans', sans-serif" font-size="9.8" fill="#404040" stroke="#404040" stroke-width="0.3" letter-spacing="0.45" text-anchor="middle">ab</text>
<text transform="translate(288.18,332.2) rotate(-45)" font-family="'Liberation Serif', serif" font-size="11.7" fill="#1a1a1a" stroke="#1a1a1a" stroke-width="0.3" text-anchor="end" dominant-baseline="central">W+NPK50</text>
<rect x="314.52" y="266.87" width="8.1" height="53.33" fill="#5B9BD5"/>
<line x1="318.57" y1="263.07" x2="318.57" y2="270.66" stroke="#555555" stroke-width="0.9"/>
<line x1="316.57" y1="263.07" x2="320.57" y2="263.07" stroke="#555555" stroke-width="0.9"/>
<line x1="316.57" y1="270.66" x2="320.57" y2="270.66" stroke="#555555" stroke-width="0.9"/>
<text transform="translate(318.57,261.77) scale(1,1)" font-family="'Liberation Sans', sans-serif" font-size="9.8" fill="#404040" stroke="#404040" stroke-width="0.3" letter-spacing="0.45" text-anchor="middle">d</text>
<rect x="324.72" y="257.38" width="8.1" height="62.82" fill="#ED7D31"/>
<line x1="328.77" y1="253.2" x2="328.77" y2="261.55" stroke="#555555" stroke-width="0.9"/>
<line x1="326.77" y1="253.2" x2="330.77" y2="253.2" stroke="#555555" stroke-width="0.9"/>
<line x1="326.77" y1="261.55" x2="330.77" y2="261.55" stroke="#555555" stroke-width="0.9"/>
<text transform="translate(328.77,251.9) scale(1,1)" font-family="'Liberation Sans', sans-serif" font-size="9.8" fill="#404040" stroke="#404040" stroke-width="0.3" letter-spacing="0.45" text-anchor="middle">b</text>
<text transform="translate(324.12,332.2) rotate(-45)" font-family="'Liberation Serif', serif" font-size="11.7" fill="#1a1a1a" stroke="#1a1a1a" stroke-width="0.3" text-anchor="end" dominant-baseline="central">Y+NPK50</text>
<line x1="54.2" y1="225.3" x2="54.2" y2="323.4" stroke="#4a4a4a" stroke-width="1.45"/>
<line x1="50.2" y1="320.2" x2="58.2" y2="320.2" stroke="#4a4a4a" stroke-width="1.45"/>
<text x="43.3" y="323.22" font-family="'Liberation Serif', serif" font-size="11.3" fill="#1a1a1a" stroke="#1a1a1a" stroke-width="0.3" text-anchor="end" >0</text>
<line x1="50.2" y1="301.22" x2="58.2" y2="301.22" stroke="#4a4a4a" stroke-width="1.45"/>
<text x="43.3" y="304.27" font-family="'Liberation Serif', serif" font-size="11.3" fill="#1a1a1a" stroke="#1a1a1a" stroke-width="0.3" text-anchor="end" >0.01</text>
<line x1="50.2" y1="282.24" x2="58.2" y2="282.24" stroke="#4a4a4a" stroke-width="1.45"/>
<text x="43.3" y="285.32" font-family="'Liberation Serif', serif" font-size="11.3" fill="#1a1a1a" stroke="#1a1a1a" stroke-width="0.3" text-anchor="end" >0.02</text>
<line x1="50.2" y1="263.26" x2="58.2" y2="263.26" stroke="#4a4a4a" stroke-width="1.45"/>
<text x="43.3" y="266.37" font-family="'Liberation Serif', serif" font-size="11.3" fill="#1a1a1a" stroke="#1a1a1a" stroke-width="0.3" text-anchor="end" >0.03</text>
<line x1="50.2" y1="244.28" x2="58.2" y2="244.28" stroke="#4a4a4a" stroke-width="1.45"/>
<text x="43.3" y="247.42" font-family="'Liberation Serif', serif" font-size="11.3" fill="#1a1a1a" stroke="#1a1a1a" stroke-width="0.3" text-anchor="end" >0.04</text>
<line x1="50.2" y1="225.3" x2="58.2" y2="225.3" stroke="#4a4a4a" stroke-width="1.45"/>
<text x="43.3" y="228.47" font-family="'Liberation Serif', serif" font-size="11.3" fill="#1a1a1a" stroke="#1a1a1a" stroke-width="0.3" text-anchor="end" >0.05</text>
<line x1="54.2" y1="320.2" x2="341.8" y2="320.2" stroke="#4a4a4a" stroke-width="1.45"/>
<line x1="54.2" y1="320.2" x2="54.2" y2="323.4" stroke="#4a4a4a" stroke-width="1.45"/>
<line x1="90.15" y1="320.2" x2="90.15" y2="323.4" stroke="#4a4a4a" stroke-width="1.45"/>
<line x1="126.1" y1="320.2" x2="126.1" y2="323.4" stroke="#4a4a4a" stroke-width="1.45"/>
<line x1="162.05" y1="320.2" x2="162.05" y2="323.4" stroke="#4a4a4a" stroke-width="1.45"/>
<line x1="198" y1="320.2" x2="198" y2="323.4" stroke="#4a4a4a" stroke-width="1.45"/>
<line x1="233.95" y1="320.2" x2="233.95" y2="323.4" stroke="#4a4a4a" stroke-width="1.45"/>
<line x1="269.9" y1="320.2" x2="269.9" y2="323.4" stroke="#4a4a4a" stroke-width="1.45"/>
<line x1="305.85" y1="320.2" x2="305.85" y2="323.4" stroke="#4a4a4a" stroke-width="1.45"/>
<line x1="341.8" y1="320.2" x2="341.8" y2="323.4" stroke="#4a4a4a" stroke-width="1.45"/>
<rect x="167.6" y="227.4" width="5.8" height="5.8" fill="#5B9BD5"/>
<text x="176.6" y="233.2" font-family="'Liberation Serif', serif" font-size="11.8" fill="#1a1a1a" stroke="#1a1a1a" stroke-width="0.3" text-anchor="start" >Shoot</text>
<rect x="212.6" y="227.4" width="5.8" height="5.8" fill="#ED7D31"/>
<text x="221.2" y="233.2" font-family="'Liberation Serif', serif" font-size="11.8" fill="#1a1a1a" stroke="#1a1a1a" stroke-width="0.3" text-anchor="start" >Root</text>
<text x="138.7" y="381.6" font-family="'Liberation Serif', serif" font-size="12.0" fill="#1a1a1a" stroke="#1a1a1a" stroke-width="0.3" text-anchor="start" >24 days treatment</text>
<text transform="translate(20.6,269.7) rotate(-90)" font-family="'Liberation Serif', serif" font-size="12" fill="#1a1a1a" stroke="#1a1a1a" stroke-width="0.3" text-anchor="middle">Dry weight (g/plant)</text>
<text x="343" y="213.7" font-family="'Liberation Serif', serif" font-size="18" fill="#1a1a1a" stroke="#1a1a1a" stroke-width="0.3" text-anchor="start" >(d)</text>
<text x="374.6" y="320.37" font-family="'Liberation Serif', serif" font-size="11.3" fill="#1a1a1a" stroke="#1a1a1a" stroke-width="0.3" text-anchor="end" >0</text>
<text x="374.6" y="304.6" font-family="'Liberation Serif', serif" font-size="11.3" fill="#1a1a1a" stroke="#1a1a1a" stroke-width="0.3" text-anchor="end" >2</text>
<text x="374.6" y="288.83" font-family="'Liberation Serif', serif" font-size="11.3" fill="#1a1a1a" stroke="#1a1a1a" stroke-width="0.3" text-anchor="end" >4</text>
<text x="374.6" y="273.07" font-family="'Liberation Serif', serif" font-size="11.3" fill="#1a1a1a" stroke="#1a1a1a" stroke-width="0.3" text-anchor="end" >6</text>
<text x="374.6" y="257.3" font-family="'Liberation Serif', serif" font-size="11.3" fill="#1a1a1a" stroke="#1a1a1a" stroke-width="0.3" text-anchor="end" >8</text>
<text x="374.6" y="241.53" font-family="'Liberation Serif', serif" font-size="11.3" fill="#1a1a1a" stroke="#1a1a1a" stroke-width="0.3" text-anchor="end" >10</text>
<text x="374.6" y="225.76" font-family="'Liberation Serif', serif" font-size="11.3" fill="#1a1a1a" stroke="#1a1a1a" stroke-width="0.3" text-anchor="end" >12</text>
<rect x="394.04" y="298.77" width="8.35" height="18.53" fill="#5B9BD5"/>
<line x1="398.21" y1="297.99" x2="398.21" y2="299.56" stroke="#555555" stroke-width="0.9"/>
<line x1="396.21" y1="297.99" x2="400.21" y2="297.99" stroke="#555555" stroke-width="0.9"/>
<line x1="396.21" y1="299.56" x2="400.21" y2="299.56" stroke="#555555" stroke-width="0.9"/>
<text transform="translate(398.21,296.69) scale(1,1)" font-family="'Liberation Sans', sans-serif" font-size="9.5" fill="#404040" stroke="#404040" stroke-width="0.3" letter-spacing="0.45" text-anchor="middle">bc</text>
<rect x="404.44" y="266.9" width="8.35" height="50.4" fill="#ED7D31"/>
<line x1="408.61" y1="261.41" x2="408.61" y2="272.4" stroke="#555555" stroke-width="0.9"/>
<line x1="406.61" y1="261.41" x2="410.61" y2="261.41" stroke="#555555" stroke-width="0.9"/>
<line x1="406.61" y1="272.4" x2="410.61" y2="272.4" stroke="#555555" stroke-width="0.9"/>
<text transform="translate(408.61,260.11) scale(1,1)" font-family="'Liberation Sans', sans-serif" font-size="9.5" fill="#404040" stroke="#404040" stroke-width="0.3" letter-spacing="0.45" text-anchor="middle">bc</text>
<text transform="translate(403.44,329.3) rotate(-45)" font-family="'Liberation Serif', serif" font-size="11.7" fill="#1a1a1a" stroke="#1a1a1a" stroke-width="0.3" text-anchor="end" dominant-baseline="central">BK-40</text>
<rect x="431.11" y="299.79" width="8.35" height="17.51" fill="#5B9BD5"/>
<line x1="435.29" y1="299.17" x2="435.29" y2="300.42" stroke="#555555" stroke-width="0.9"/>
<line x1="433.29" y1="299.17" x2="437.29" y2="299.17" stroke="#555555" stroke-width="0.9"/>
<line x1="433.29" y1="300.42" x2="437.29" y2="300.42" stroke="#555555" stroke-width="0.9"/>
<text transform="translate(435.29,297.87) scale(1,1)" font-family="'Liberation Sans', sans-serif" font-size="9.5" fill="#404040" stroke="#404040" stroke-width="0.3" letter-spacing="0.45" text-anchor="middle">c</text>
<rect x="441.51" y="272.24" width="8.35" height="45.06" fill="#ED7D31"/>
<line x1="445.69" y1="269.49" x2="445.69" y2="274.99" stroke="#555555" stroke-width="0.9"/>
<line x1="443.69" y1="269.49" x2="447.69" y2="269.49" stroke="#555555" stroke-width="0.9"/>
<line x1="443.69" y1="274.99" x2="447.69" y2="274.99" stroke="#555555" stroke-width="0.9"/>
<text transform="translate(445.69,268.19) scale(1,1)" font-family="'Liberation Sans', sans-serif" font-size="9.5" fill="#404040" stroke="#404040" stroke-width="0.3" letter-spacing="0.45" text-anchor="middle">bc</text>
<text transform="translate(440.51,329.3) rotate(-45)" font-family="'Liberation Serif', serif" font-size="11.7" fill="#1a1a1a" stroke="#1a1a1a" stroke-width="0.3" text-anchor="end" dominant-baseline="central">NPK50</text>
<rect x="468.19" y="297.05" width="8.35" height="20.25" fill="#5B9BD5"/>
<line x1="472.36" y1="296.26" x2="472.36" y2="297.83" stroke="#555555" stroke-width="0.9"/>
<line x1="470.36" y1="296.26" x2="474.36" y2="296.26" stroke="#555555" stroke-width="0.9"/>
<line x1="470.36" y1="297.83" x2="474.36" y2="297.83" stroke="#555555" stroke-width="0.9"/>
<text transform="translate(472.36,294.96) scale(1,1)" font-family="'Liberation Sans', sans-serif" font-size="9.5" fill="#404040" stroke="#404040" stroke-width="0.3" letter-spacing="0.45" text-anchor="middle">b</text>
<rect x="478.59" y="256.7" width="8.35" height="60.6" fill="#ED7D31"/>
<line x1="482.76" y1="251.2" x2="482.76" y2="262.19" stroke="#555555" stroke-width="0.9"/>
<line x1="480.76" y1="251.2" x2="484.76" y2="251.2" stroke="#555555" stroke-width="0.9"/>
<line x1="480.76" y1="262.19" x2="484.76" y2="262.19" stroke="#555555" stroke-width="0.9"/>
<text transform="translate(482.76,249.9) scale(1,1)" font-family="'Liberation Sans', sans-serif" font-size="9.5" fill="#404040" stroke="#404040" stroke-width="0.3" letter-spacing="0.45" text-anchor="middle">b</text>
<text transform="translate(477.59,329.3) rotate(-45)" font-family="'Liberation Serif', serif" font-size="11.7" fill="#1a1a1a" stroke="#1a1a1a" stroke-width="0.3" text-anchor="end" dominant-baseline="central">NPK100</text>
<rect x="505.26" y="293.28" width="8.35" height="24.02" fill="#5B9BD5"/>
<line x1="509.44" y1="292.89" x2="509.44" y2="293.67" stroke="#555555" stroke-width="0.9"/>
<line x1="507.44" y1="292.89" x2="511.44" y2="292.89" stroke="#555555" stroke-width="0.9"/>
<line x1="507.44" y1="293.67" x2="511.44" y2="293.67" stroke="#555555" stroke-width="0.9"/>
<text transform="translate(509.44,291.59) scale(1,1)" font-family="'Liberation Sans', sans-serif" font-size="9.5" fill="#404040" stroke="#404040" stroke-width="0.3" letter-spacing="0.45" text-anchor="middle">a</text>
<rect x="515.66" y="238.02" width="8.35" height="79.28" fill="#ED7D31"/>
<line x1="519.84" y1="234.09" x2="519.84" y2="241.94" stroke="#555555" stroke-width="0.9"/>
<line x1="517.84" y1="234.09" x2="521.84" y2="234.09" stroke="#555555" stroke-width="0.9"/>
<line x1="517.84" y1="241.94" x2="521.84" y2="241.94" stroke="#555555" stroke-width="0.9"/>
<text transform="translate(519.84,232.79) scale(1,1)" font-family="'Liberation Sans', sans-serif" font-size="9.5" fill="#404040" stroke="#404040" stroke-width="0.3" letter-spacing="0.45" text-anchor="middle">a</text>
<text transform="translate(514.66,329.3) rotate(-45)" font-family="'Liberation Serif', serif" font-size="11.7" fill="#1a1a1a" stroke="#1a1a1a" stroke-width="0.3" text-anchor="end" dominant-baseline="central">D+NPK50</text>
<rect x="542.34" y="293.28" width="8.35" height="24.02" fill="#5B9BD5"/>
<line x1="546.51" y1="292.89" x2="546.51" y2="293.67" stroke="#555555" stroke-width="0.9"/>
<line x1="544.51" y1="292.89" x2="548.51" y2="292.89" stroke="#555555" stroke-width="0.9"/>
<line x1="544.51" y1="293.67" x2="548.51" y2="293.67" stroke="#555555" stroke-width="0.9"/>
<text transform="translate(546.51,291.59) scale(1,1)" font-family="'Liberation Sans', sans-serif" font-size="9.5" fill="#404040" stroke="#404040" stroke-width="0.3" letter-spacing="0.45" text-anchor="middle">a</text>
<rect x="552.74" y="237.86" width="8.35" height="79.44" fill="#ED7D31"/>
<line x1="556.91" y1="233.15" x2="556.91" y2="242.57" stroke="#555555" stroke-width="0.9"/>
<line x1="554.91" y1="233.15" x2="558.91" y2="233.15" stroke="#555555" stroke-width="0.9"/>
<line x1="554.91" y1="242.57" x2="558.91" y2="242.57" stroke="#555555" stroke-width="0.9"/>
<text transform="translate(556.91,231.85) scale(1,1)" font-family="'Liberation Sans', sans-serif" font-size="9.5" fill="#404040" stroke="#404040" stroke-width="0.3" letter-spacing="0.45" text-anchor="middle">a</text>
<text transform="translate(551.74,329.3) rotate(-45)" font-family="'Liberation Serif', serif" font-size="11.7" fill="#1a1a1a" stroke="#1a1a1a" stroke-width="0.3" text-anchor="end" dominant-baseline="central">K+NPK50</text>
<rect x="579.41" y="293.28" width="8.35" height="24.02" fill="#5B9BD5"/>
<line x1="583.59" y1="292.89" x2="583.59" y2="293.67" stroke="#555555" stroke-width="0.9"/>
<line x1="581.59" y1="292.89" x2="585.59" y2="292.89" stroke="#555555" stroke-width="0.9"/>
<line x1="581.59" y1="293.67" x2="585.59" y2="293.67" stroke="#555555" stroke-width="0.9"/>
<text transform="translate(583.59,291.59) scale(1,1)" font-family="'Liberation Sans', sans-serif" font-size="9.5" fill="#404040" stroke="#404040" stroke-width="0.3" letter-spacing="0.45" text-anchor="middle">a</text>
<rect x="589.81" y="237.86" width="8.35" height="79.44" fill="#ED7D31"/>
<line x1="593.99" y1="233.15" x2="593.99" y2="242.57" stroke="#555555" stroke-width="0.9"/>
<line x1="591.99" y1="233.15" x2="595.99" y2="233.15" stroke="#555555" stroke-width="0.9"/>
<line x1="591.99" y1="242.57" x2="595.99" y2="242.57" stroke="#555555" stroke-width="0.9"/>
<text transform="translate(593.99,231.85) scale(1,1)" font-family="'Liberation Sans', sans-serif" font-size="9.5" fill="#404040" stroke="#404040" stroke-width="0.3" letter-spacing="0.45" text-anchor="middle">a</text>
<text transform="translate(588.81,329.3) rotate(-45)" font-family="'Liberation Serif', serif" font-size="11.7" fill="#1a1a1a" stroke="#1a1a1a" stroke-width="0.3" text-anchor="end" dominant-baseline="central">N+NPK50</text>
<rect x="616.49" y="294.69" width="8.35" height="22.61" fill="#5B9BD5"/>
<line x1="620.66" y1="294.14" x2="620.66" y2="295.24" stroke="#555555" stroke-width="0.9"/>
<line x1="618.66" y1="294.14" x2="622.66" y2="294.14" stroke="#555555" stroke-width="0.9"/>
<line x1="618.66" y1="295.24" x2="622.66" y2="295.24" stroke="#555555" stroke-width="0.9"/>
<text transform="translate(620.66,292.84) scale(1,1)" font-family="'Liberation Sans', sans-serif" font-size="9.5" fill="#404040" stroke="#404040" stroke-width="0.3" letter-spacing="0.45" text-anchor="middle">b</text>
<rect x="626.89" y="262.19" width="8.35" height="55.11" fill="#ED7D31"/>
<line x1="631.06" y1="259.45" x2="631.06" y2="264.94" stroke="#555555" stroke-width="0.9"/>
<line x1="629.06" y1="259.45" x2="633.06" y2="259.45" stroke="#555555" stroke-width="0.9"/>
<line x1="629.06" y1="264.94" x2="633.06" y2="264.94" stroke="#555555" stroke-width="0.9"/>
<text transform="translate(631.06,258.15) scale(1,1)" font-family="'Liberation Sans', sans-serif" font-size="9.5" fill="#404040" stroke="#404040" stroke-width="0.3" letter-spacing="0.45" text-anchor="middle">b</text>
<text transform="translate(625.89,329.3) rotate(-45)" font-family="'Liberation Serif', serif" font-size="11.7" fill="#1a1a1a" stroke="#1a1a1a" stroke-width="0.3" text-anchor="end" dominant-baseline="central">W+NPK50</text>
<rect x="653.56" y="294.69" width="8.35" height="22.61" fill="#5B9BD5"/>
<line x1="657.74" y1="294.06" x2="657.74" y2="295.32" stroke="#555555" stroke-width="0.9"/>
<line x1="655.74" y1="294.06" x2="659.74" y2="294.06" stroke="#555555" stroke-width="0.9"/>
<line x1="655.74" y1="295.32" x2="659.74" y2="295.32" stroke="#555555" stroke-width="0.9"/>
<text transform="translate(657.74,292.76) scale(1,1)" font-family="'Liberation Sans', sans-serif" font-size="9.5" fill="#404040" stroke="#404040" stroke-width="0.3" letter-spacing="0.45" text-anchor="middle">b</text>
<rect x="663.96" y="254.81" width="8.35" height="62.49" fill="#ED7D31"/>
<line x1="668.14" y1="250.5" x2="668.14" y2="259.13" stroke="#555555" stroke-width="0.9"/>
<line x1="666.14" y1="250.5" x2="670.14" y2="250.5" stroke="#555555" stroke-width="0.9"/>
<line x1="666.14" y1="259.13" x2="670.14" y2="259.13" stroke="#555555" stroke-width="0.9"/>
<text transform="translate(668.14,249.2) scale(1,1)" font-family="'Liberation Sans', sans-serif" font-size="9.5" fill="#404040" stroke="#404040" stroke-width="0.3" letter-spacing="0.45" text-anchor="middle">b</text>
<text transform="translate(662.96,329.3) rotate(-45)" font-family="'Liberation Serif', serif" font-size="11.7" fill="#1a1a1a" stroke="#1a1a1a" stroke-width="0.3" text-anchor="end" dominant-baseline="central">Y+NPK50</text>
<line x1="384.6" y1="317.3" x2="681.2" y2="317.3" stroke="#4a4a4a" stroke-width="1.45"/>
<line x1="384.6" y1="317.3" x2="384.6" y2="320.5" stroke="#4a4a4a" stroke-width="1.45"/>
<line x1="421.68" y1="317.3" x2="421.68" y2="320.5" stroke="#4a4a4a" stroke-width="1.45"/>
<line x1="458.75" y1="317.3" x2="458.75" y2="320.5" stroke="#4a4a4a" stroke-width="1.45"/>
<line x1="495.83" y1="317.3" x2="495.83" y2="320.5" stroke="#4a4a4a" stroke-width="1.45"/>
<line x1="532.9" y1="317.3" x2="532.9" y2="320.5" stroke="#4a4a4a" stroke-width="1.45"/>
<line x1="569.98" y1="317.3" x2="569.98" y2="320.5" stroke="#4a4a4a" stroke-width="1.45"/>
<line x1="607.05" y1="317.3" x2="607.05" y2="320.5" stroke="#4a4a4a" stroke-width="1.45"/>
<line x1="644.12" y1="317.3" x2="644.12" y2="320.5" stroke="#4a4a4a" stroke-width="1.45"/>
<line x1="681.2" y1="317.3" x2="681.2" y2="320.5" stroke="#4a4a4a" stroke-width="1.45"/>
<rect x="398.3" y="223.6" width="6" height="6" fill="#5B9BD5"/>
<text x="407.4" y="230" font-family="'Liberation Serif', serif" font-size="11.8" fill="#1a1a1a" stroke="#1a1a1a" stroke-width="0.3" text-anchor="start" >Shoot</text>
<rect x="446.6" y="223.6" width="6" height="6" fill="#ED7D31"/>
<text x="455.2" y="230" font-family="'Liberation Serif', serif" font-size="11.8" fill="#1a1a1a" stroke="#1a1a1a" stroke-width="0.3" text-anchor="start" >Root</text>
<text x="490.7" y="385.9" font-family="'Liberation Serif', serif" font-size="12.0" fill="#1a1a1a" stroke="#1a1a1a" stroke-width="0.3" text-anchor="start" >24 days treatment</text>
<text transform="translate(357.2,268.5) rotate(-90)" font-family="'Liberation Serif', serif" font-size="12" fill="#1a1a1a" stroke="#1a1a1a" stroke-width="0.3" text-anchor="middle">Number per plant</text>
</g>
</svg>
</body></html>
